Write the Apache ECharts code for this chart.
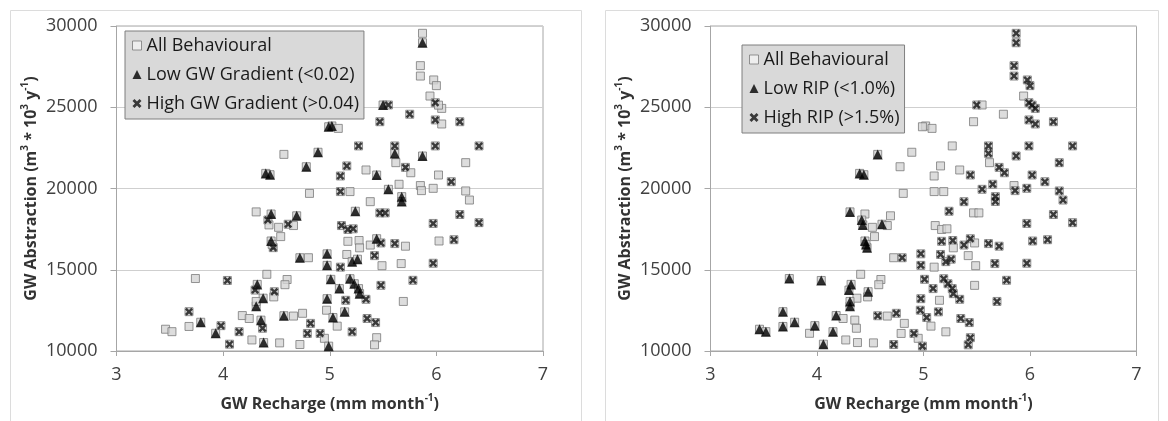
<!DOCTYPE html>
<html>
<head>
<meta charset="utf-8">
<title>GW Abstraction vs Recharge</title>
<script src="https://cdn.jsdelivr.net/npm/echarts@6/dist/echarts.min.js"></script>
<style>
  html, body { margin: 0; padding: 0; background: #fff; }
  #chart { width: 1168px; height: 421px; }
</style>
</head>
<body>
<div id="chart"></div>
<script>
// behavioural model runs: recharge (mm/month) vs abstraction (m3 * 10^3 / y)
const recharge = [
  5.87, 5.87, 5.85, 5.85, 5.975, 6.00, 5.94, 5.99, 6.05, 6.02,
  5.50, 5.55, 5.75, 5.02, 5.08, 4.99, 5.47, 5.99, 6.05, 6.22,
  5.27, 5.61, 5.61, 5.87, 5.99, 6.40, 5.62, 5.71, 5.76, 5.16,
  5.10, 5.34, 5.44, 6.02, 6.14, 6.275, 4.57, 4.89, 4.78, 4.40,
  4.44, 5.55, 5.65, 5.675, 5.675, 5.85, 5.86, 5.97, 5.10, 5.19,
  6.275, 6.31, 5.38, 5.24, 5.47, 5.52, 6.22, 6.40, 5.97, 5.11,
  5.17, 5.22, 5.17, 5.275, 5.28, 5.38, 5.44, 5.48, 5.61, 5.71,
  6.025, 6.165, 4.81, 4.31, 4.45, 4.42, 4.43, 4.52, 4.61, 4.69,
  4.66, 4.54, 4.45, 4.47, 4.46, 4.72, 4.80, 4.975, 4.975, 5.16,
  5.21, 5.26, 5.42, 5.49, 5.67, 5.97, 5.10, 5.01, 5.09, 5.19,
  5.23, 5.27, 5.28, 5.15, 5.34, 5.48, 5.78, 5.69, 4.975, 4.97,
  5.03, 5.07, 5.14, 5.35, 5.43, 4.82, 4.79, 4.91, 5.21, 4.95,
  4.99, 5.44, 5.42, 4.72, 4.53, 4.57, 4.66, 4.745, 4.38, 4.27,
  4.18, 4.245, 4.355, 4.37, 4.15, 4.06, 3.93, 3.98, 3.79, 3.68,
  3.46, 3.52, 3.68, 3.74, 4.04, 4.41, 4.32, 4.30, 4.375, 4.31,
  4.31, 4.48, 4.475, 4.60, 4.58
];
const abstraction = [
  29550, 28970, 27560, 26920, 26680, 26330, 25690, 25280, 24930, 25130,
  25140, 25140, 24570, 23850, 23700, 23800, 24110, 24220, 23970, 24110,
  22620, 22620, 22160, 22000, 22620, 22620, 21590, 21300, 20970, 21390,
  20770, 21140, 20830, 20830, 20420, 21590, 22100, 22230, 21340, 20930,
  20850, 19950, 20260, 19500, 19200, 20180, 19870, 20010, 19810, 19810,
  19850, 19290, 19190, 18600, 18500, 18500, 18400, 17900, 17850, 17720,
  17480, 17520, 16750, 16800, 16350, 16520, 16910, 16650, 16610, 16450,
  16770, 16850, 19700, 18560, 18430, 18060, 17760, 17610, 17800, 18320,
  17720, 17040, 16770, 16360, 16560, 15740, 15740, 15980, 15270, 15940,
  15500, 15650, 15870, 15250, 15380, 15400, 15160, 14410, 13840, 14450,
  14140, 13840, 13530, 13120, 13180, 14040, 14350, 13050, 13220, 12510,
  12060, 11530, 12410, 12000, 11750, 11700, 11080, 11080, 11180, 10780,
  10300, 10820, 10380, 10400, 10500, 12170, 12150, 12320, 10520, 10680,
  12180, 12000, 11900, 11400, 11190, 10420, 11090, 11560, 11770, 11510,
  11340, 11190, 12420, 14460, 14340, 14720, 14100, 13750, 13250, 12760,
  13050, 13650, 13330, 14400, 14080
];
// one letter per run: L = low, H = high, - = neither
const gradientGroup = [
  '-L-----H--', 'LHHL-LHH-H', 'HHLLHH-H-H', 'H-L-H--LLL', 'LL-LL---H-',
  '---LHHHHHH', 'HH----LHH-', '-H--LH--HL', '--LH-L-LL-', 'LLH--HHLLL',
  'LLLHHHH-L-', 'L-LHHHHHH-', 'L----L--L-', '--LHHHLHL-', '--H-H-LHLL',
  '-H---'
].join('').split('');
const ripGroup = [
  'HHHHHH-HHH', 'H------HHH', '-HHHHH-HH-', '--HHHHL--L', 'LHHHH-HH--',
  'HHHH--HHH-', '--HH-HH-HH', 'HH-L-LL-L-', '--LLL-HHHH', 'HH--HH-HHH',
  'HHH-H-HHHH', 'H-HHH--H--', 'HHHH-H-H--', 'L---LL-LLL', 'LLLLL-LL-L',
  'LL---'
].join('').split('');

const FONT = '"Open Sans", "Noto Sans", sans-serif';
const crossIcon = 'path://M0,2.2L2.2,0L5,2.8L7.8,0L10,2.2L7.2,5L10,7.8L7.8,10L5,7.2L2.2,10L0,7.8L2.8,5Z';

function pick(groups, code) {
  const out = [];
  for (let i = 0; i < recharge.length; i++) {
    if (groups[i] === code) out.push([recharge[i], abstraction[i]]);
  }
  return out;
}
const allPts = recharge.map((x, i) => [x, abstraction[i]]);

const squareStyle = { color: '#d4d4d4', borderColor: '#7a7a7a', borderWidth: 1 };
const triStyle = { color: '#000' };
const crossStyle = { color: '#111' };
const supStyle = { fontSize: 10, fontWeight: 'bold', fontFamily: FONT, color: '#333', lineHeight: 11, verticalAlign: 'top' };

function xAxis(idx) {
  return {
    gridIndex: idx, type: 'value', min: 3, max: 7, interval: 1,
    axisLine: { show: true, lineStyle: { color: '#a6a6a6' } },
    axisTick: { show: true, length: 5, lineStyle: { color: '#a6a6a6' } },
    splitLine: { show: false },
    axisLabel: { color: '#404040', fontSize: 18, fontFamily: FONT, margin: 15 },
    name: 'GW Recharge (mm month{sup|-1})',
    nameLocation: 'middle', nameGap: 42,
    nameTextStyle: {
      color: '#333', fontSize: 16, fontWeight: 'bold', fontFamily: FONT, lineHeight: 22,
      rich: { sup: supStyle }
    }
  };
}
function yAxis(idx) {
  return {
    gridIndex: idx, type: 'value', min: 10000, max: 30000, interval: 5000,
    axisLine: { show: true, lineStyle: { color: '#a6a6a6' } },
    axisTick: { show: true, length: 6, lineStyle: { color: '#a6a6a6' } },
    splitLine: { show: true, lineStyle: { color: '#cfcfcf' } },
    axisLabel: { color: '#404040', fontSize: 18, fontFamily: FONT, margin: 19, formatter: v => String(v) },
    name: 'GW Abstraction (m{sup|3} * 10{sup|3} y{sup|-1})',
    nameLocation: 'middle', nameGap: 72,
    nameTextStyle: {
      color: '#333', fontSize: 16, fontWeight: 'bold', fontFamily: FONT, lineHeight: 22,
      rich: { sup: supStyle }
    }
  };
}
function legend(left, top, names) {
  return {
    left: left, top: top, orient: 'vertical', selectedMode: false,
    backgroundColor: '#d9d9d9', borderColor: '#7f7f7f', borderWidth: 1, borderRadius: 0,
    padding: [4, 5, 5, 7], itemGap: 8, itemWidth: 9, itemHeight: 9,
    textStyle: { color: '#1a1a1a', fontSize: 18, fontFamily: FONT, lineHeight: 21 },
    data: names
  };
}

const chart = echarts.init(document.getElementById('chart'));
chart.setOption({
  backgroundColor: '#fff',
  animation: false,
  graphic: [
    { type: 'rect', shape: { x: 10.5, y: 10.5, width: 571, height: 430 }, style: { fill: 'none', stroke: '#dcdcdc', lineWidth: 1 }, silent: true },
    { type: 'rect', shape: { x: 605.5, y: 10.5, width: 553, height: 430 }, style: { fill: 'none', stroke: '#dcdcdc', lineWidth: 1 }, silent: true }
  ],
  grid: [
    { left: 116.5, right: 625, top: 26, bottom: 70, show: true, borderColor: '#a6a6a6', borderWidth: 1 },
    { left: 710.5, right: 31.5, top: 26, bottom: 70, show: true, borderColor: '#a6a6a6', borderWidth: 1 }
  ],
  xAxis: [xAxis(0), xAxis(1)],
  yAxis: [yAxis(0), yAxis(1)],
  legend: [
    legend(125, 31, [
      { name: 'All Behavioural', icon: 'rect', itemStyle: { color: '#f2f2f2', borderColor: '#7a7a7a', borderWidth: 1 } },
      { name: 'Low GW Gradient (<0.02)', icon: 'triangle' },
      { name: 'High GW Gradient (>0.04)', icon: crossIcon }
    ]),
    legend(742, 45, [
      { name: 'All Behavioural', icon: 'rect', itemStyle: { color: '#f2f2f2', borderColor: '#7a7a7a', borderWidth: 1 } },
      { name: 'Low RIP (<1.0%)', icon: 'triangle' },
      { name: 'High RIP (>1.5%)', icon: crossIcon }
    ])
  ],
  series: [
    { name: 'All Behavioural', type: 'scatter', xAxisIndex: 0, yAxisIndex: 0, symbol: 'rect', symbolSize: 8, itemStyle: squareStyle, data: allPts },
    { name: 'Low GW Gradient (<0.02)', type: 'scatter', xAxisIndex: 0, yAxisIndex: 0, symbol: 'triangle', symbolSize: 10, itemStyle: triStyle, data: pick(gradientGroup, 'L') },
    { name: 'High GW Gradient (>0.04)', type: 'scatter', xAxisIndex: 0, yAxisIndex: 0, symbol: crossIcon, symbolSize: 8, itemStyle: crossStyle, data: pick(gradientGroup, 'H') },
    { name: 'All Behavioural', type: 'scatter', xAxisIndex: 1, yAxisIndex: 1, symbol: 'rect', symbolSize: 8, itemStyle: squareStyle, data: allPts },
    { name: 'Low RIP (<1.0%)', type: 'scatter', xAxisIndex: 1, yAxisIndex: 1, symbol: 'triangle', symbolSize: 10, itemStyle: triStyle, data: pick(ripGroup, 'L') },
    { name: 'High RIP (>1.5%)', type: 'scatter', xAxisIndex: 1, yAxisIndex: 1, symbol: crossIcon, symbolSize: 8, itemStyle: crossStyle, data: pick(ripGroup, 'H') }
  ]
});
</script>
</body>
</html>
